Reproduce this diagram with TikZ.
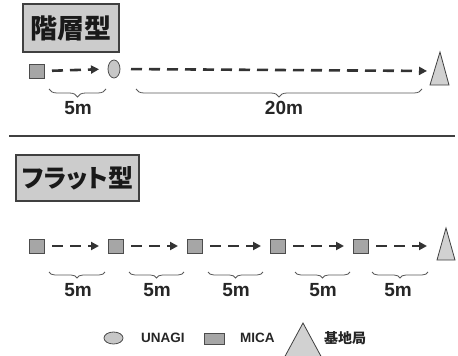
\documentclass[tikz,border=0pt]{standalone}
\usepackage{fontspec}
\setmainfont{Liberation Sans}
\newfontfamily\jp{Noto Sans CJK JP}
\newfontfamily\jpp[RawFeature=+palt]{Noto Sans CJK JP}
\usetikzlibrary{shapes.geometric,arrows.meta,decorations.pathreplacing}
\begin{document}
\begin{tikzpicture}[x=1pt,y=-1pt,
  titlebox/.style={draw=black!75, fill=black!20, line width=1.2pt, inner sep=0pt, outer sep=0pt, text=black!90},
  mica/.style={rectangle, draw=black!70, fill=black!35, line width=0.8pt, minimum width=15pt, minimum height=14pt, inner sep=0pt, outer sep=0pt},
  unagi/.style={ellipse, draw=black!70, fill=black!22, line width=0.8pt, minimum width=12pt, minimum height=18pt, inner sep=0pt, outer sep=0pt},
  base/.style={draw=black!75, fill=black!18, line width=0.8pt},
  link/.style={dash pattern=on 11pt off 7pt, line width=2.6pt, draw=black!80, -{Triangle[length=8pt,width=8pt]}, shorten <=8pt, shorten >=9pt},
  span/.style={decorate, decoration={brace, mirror, amplitude=#1}, draw=black!65, line width=0.8pt},
  dist/.style={font=\fontsize{19}{19}\selectfont\bfseries, text=black!85, inner sep=0pt},
  legend/.style={font=\fontsize{13.5}{13.5}\selectfont\bfseries, text=black!85, inner sep=0pt}
]
\clip (0,0) rectangle (458,356);
\fill[white] (0,0) rectangle (458,356);

% ---- top: hierarchical ----
\node[titlebox, minimum width=96pt, minimum height=48pt, font=\jp\fontsize{27}{27}\selectfont\bfseries] (title1) at (71,28) {階層型};
\node[mica] (a1) at (36.5,71) {};
\node[unagi] (u1) at (114,69) {};
\filldraw[base] (440,52) -- (430,85) -- (449,85) -- cycle;
\coordinate (t1) at (434,71);
\draw[link] (a1.east) -- (u1.west);
\draw[link, shorten <=11pt, shorten >=7pt] (u1.east) -- (t1);
\draw[span=8pt] (49,89) -- (106,89);
\draw[span=8pt] (136,89) -- (422,89);
\node[dist] (d1) at (78,108) {5m};
\node[dist] (d2) at (284,108) {20m};

% ---- separator ----
\draw[line width=2pt, black!75] (9,136) -- (455,136);

% ---- bottom: flat ----
\node[titlebox, minimum width=123pt, minimum height=46pt, font=\jpp\fontsize{25}{25}\selectfont\bfseries] (title2) at (77.5,178) {フラット型};
\node[mica] (b1) at (36.5,246) {};
\node[mica] (b2) at (115.5,246) {};
\node[mica] (b3) at (194.5,246) {};
\node[mica] (b4) at (277.5,246) {};
\node[mica] (b5) at (360.5,246) {};
\filldraw[base] (446,228) -- (437,260) -- (455,260) -- cycle;
\coordinate (t2) at (441,246);
\draw[link] (b1.east) -- (b2.west);
\draw[link] (b2.east) -- (b3.west);
\draw[link] (b3.east) -- (b4.west);
\draw[link] (b4.east) -- (b5.west);
\draw[link, shorten >=14pt] (b5.east) -- (t2);
\draw[span=6pt] (49,272) -- (105,272);
\draw[span=6pt] (129,272) -- (184,272);
\draw[span=6pt] (208,272) -- (263,272);
\draw[span=6pt] (295,272) -- (350,272);
\draw[span=6pt] (372,272) -- (428,272);
\node[dist] (e1) at (78,290) {5m};
\node[dist] (e2) at (157,290) {5m};
\node[dist] (e3) at (236,290) {5m};
\node[dist] (e4) at (323,290) {5m};
\node[dist] (e5) at (398,290) {5m};

% ---- legend ----
\node[unagi, minimum width=19pt, minimum height=12pt] (lu) at (113.5,338) {};
\node[legend, anchor=west] (lut) at (141,338) {UNAGI};
\node[mica, minimum width=20pt, minimum height=11pt] (lm) at (214,338.5) {};
\node[legend, anchor=west] (lmt) at (240,338) {MICA};
\filldraw[base] (303,323) -- (283,360) -- (323,360) -- cycle;
\node[legend, anchor=west, font=\jp\fontsize{14}{14}\selectfont\bfseries] (lbt) at (324,338) {基地局};
\end{tikzpicture}
\end{document}
